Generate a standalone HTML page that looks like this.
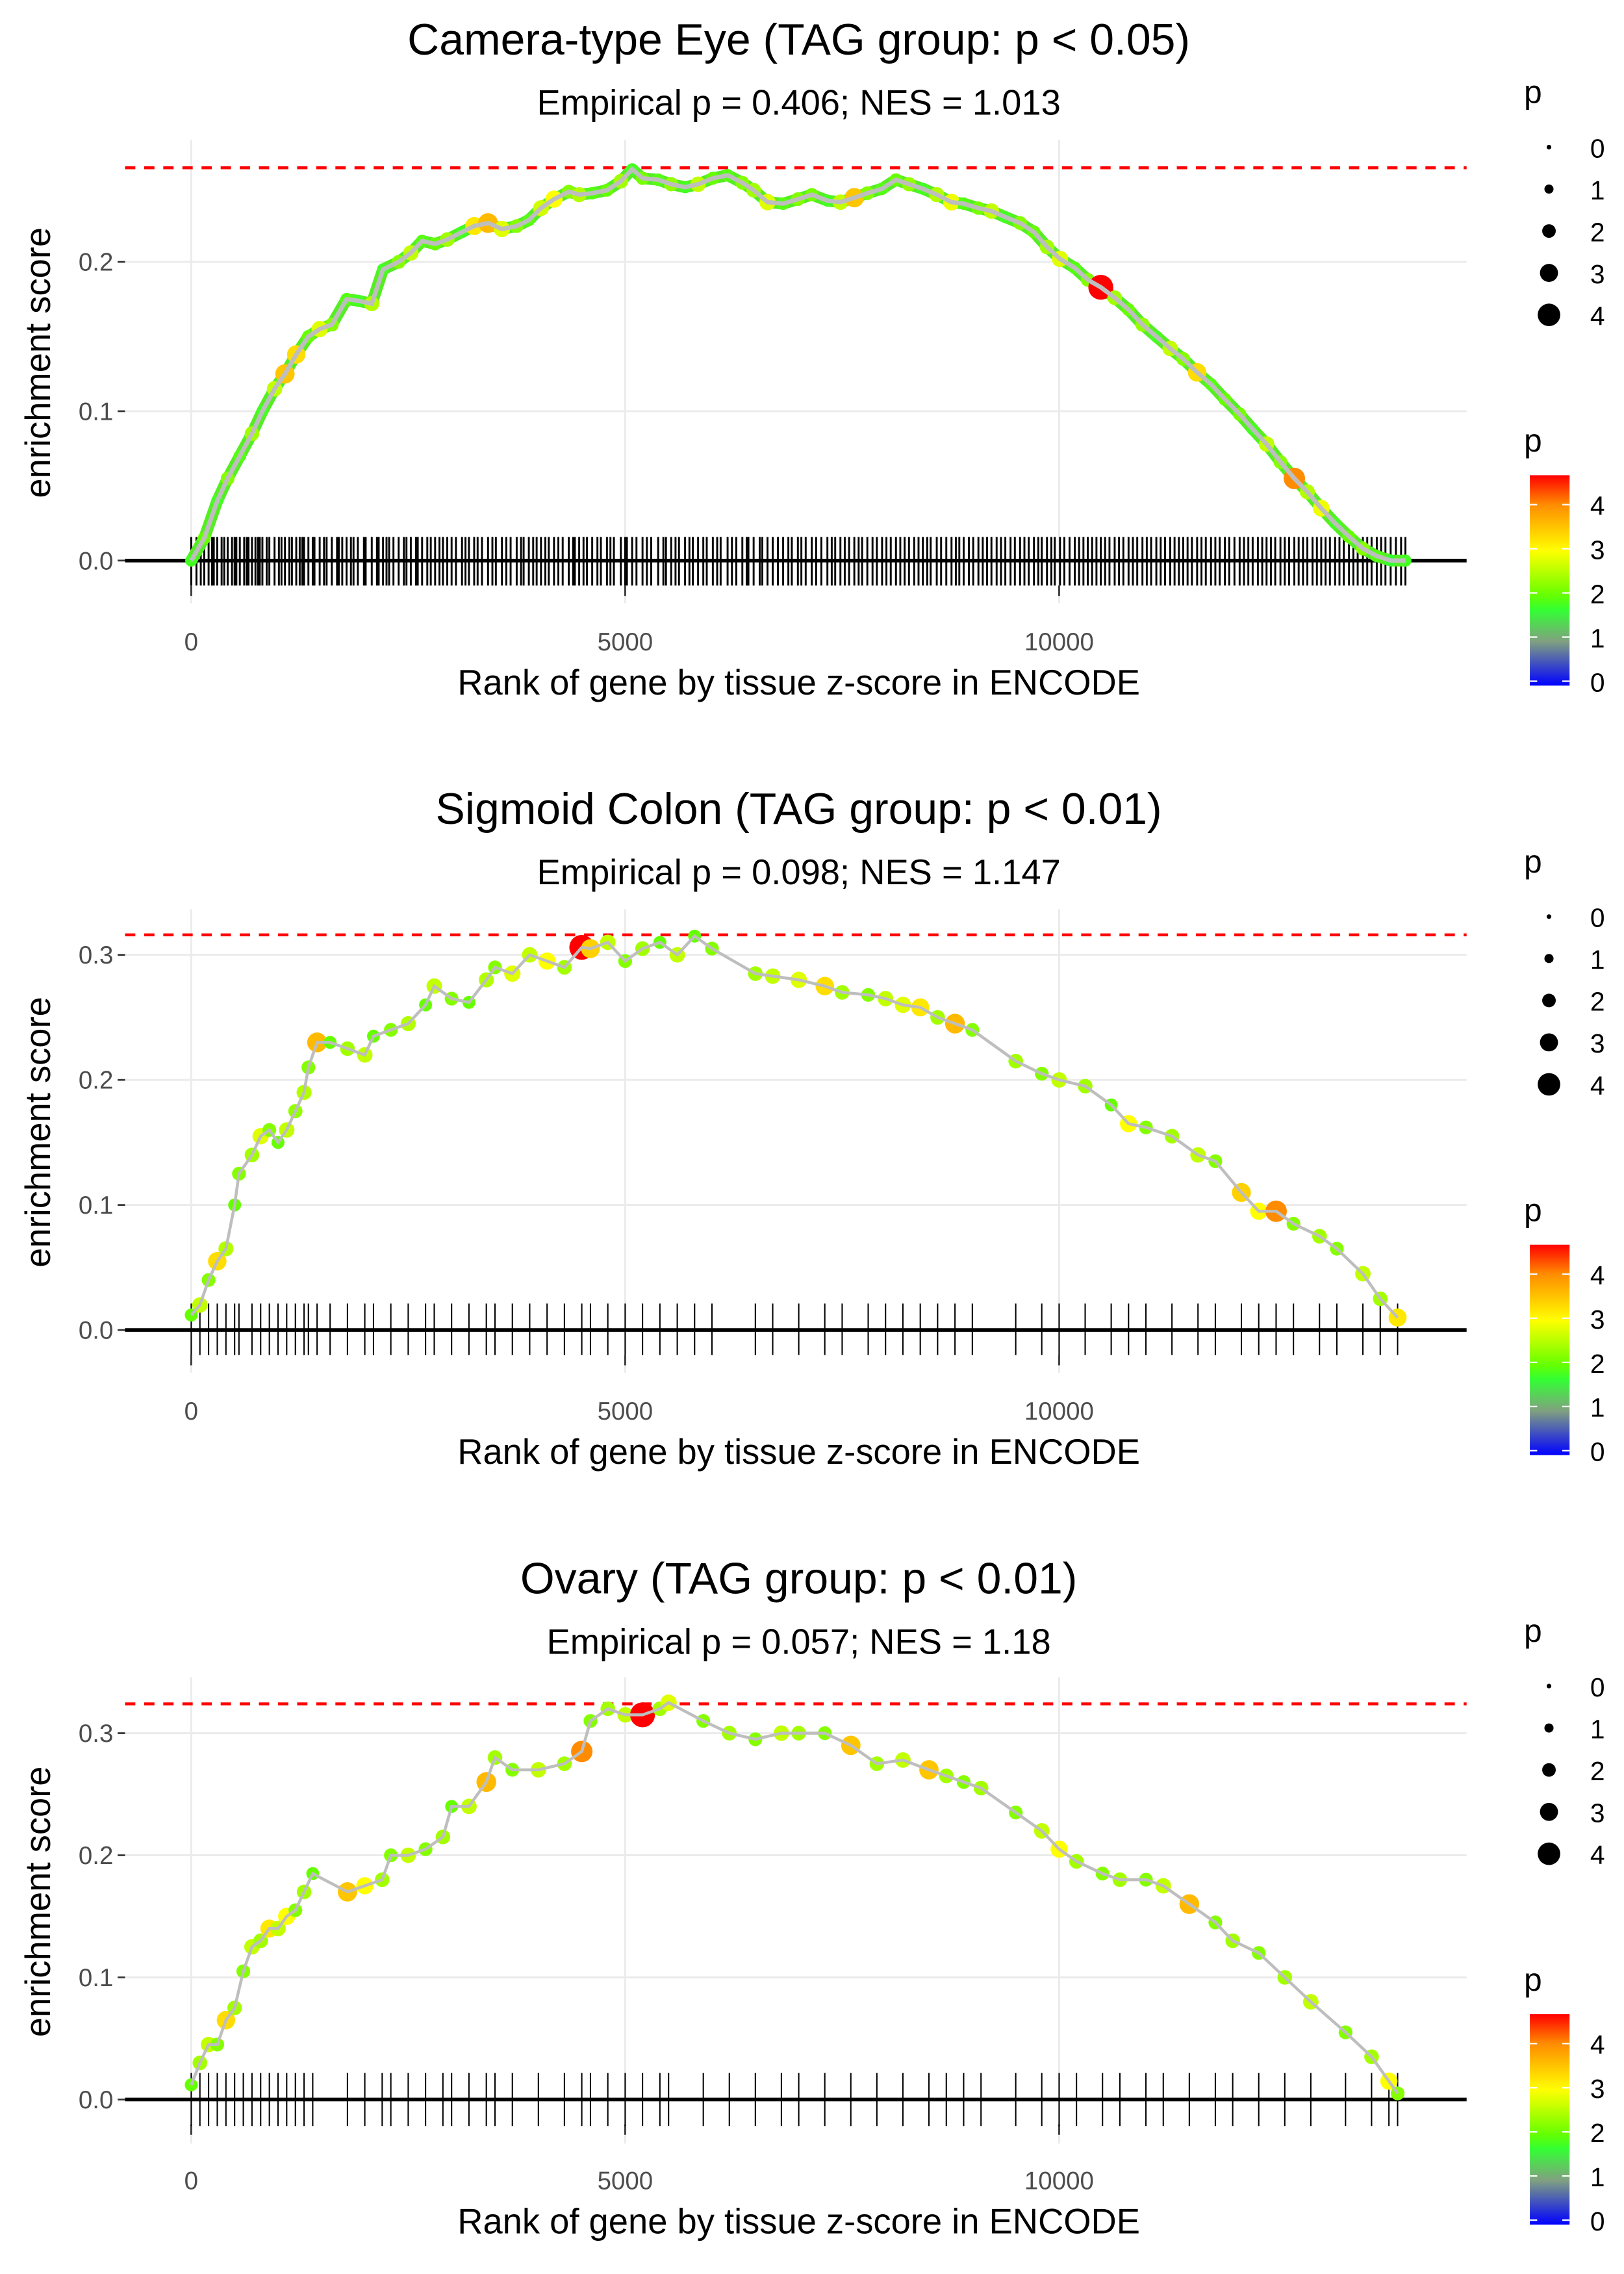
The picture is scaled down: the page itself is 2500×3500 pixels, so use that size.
<!DOCTYPE html>
<html><head><meta charset="utf-8"><style>
html,body{margin:0;padding:0;background:#fff}
svg{display:block}
text{font-family:"Liberation Sans",sans-serif}
</style></head><body>
<svg id="chart" width="2500" height="3500" viewBox="0 0 1104 1545.6" preserveAspectRatio="none" xmlns="http://www.w3.org/2000/svg">
<defs>
<linearGradient id="pgrad" x1="0" y1="1" x2="0" y2="0">
<stop offset="0" stop-color="#0000ff"/>
<stop offset="0.21" stop-color="#80a080"/>
<stop offset="0.36" stop-color="#33ff33"/>
<stop offset="0.43" stop-color="#66ff00"/>
<stop offset="0.64" stop-color="#ffff00"/>
<stop offset="0.86" stop-color="#ff8c00"/>
<stop offset="1" stop-color="#ff0000"/>
</linearGradient>
</defs>
</svg>
<script>
// ---- data ----
const titles = ["Camera-type Eye (TAG group: p < 0.05)","Sigmoid Colon (TAG group: p < 0.01)","Ovary (TAG group: p < 0.01)"];
const subtitles = ["Empirical p = 0.406; NES = 1.013","Empirical p = 0.098; NES = 1.147","Empirical p = 0.057; NES = 1.18"];
const maxES = [0.263, 0.316, 0.324];
const yTicks = [[0,0.1,0.2],[0,0.1,0.2,0.3],[0,0.1,0.2,0.3]];
const xTicks = [0,5000,10000];
const rank1 = [0,150,300,420,560,700,820,960,1080,1210,1350,1480,1620,1790,1920,2080,2210,2390,2530,2660,2810,2950,3120,3260,3420,3580,3750,3890,4030,4180,4350,4470,4620,4790,4950,5080,5200,5380,5530,5690,5840,6010,6180,6350,6480,6640,6820,6990,7150,7330,7480,7640,7790,7960,8120,8270,8430,8590,8760,8900,9070,9220,9380,9550,9710,9860,10010,10180,10330,10480,10640,10800,10960,11120,11280,11430,11590,11750,11910,12080,12230,12390,12550,12710,12860,13020,13180,13340,13500,13660,13820,13990];
const es1 = [0,0.015,0.04,0.055,0.07,0.085,0.1,0.115,0.125,0.138,0.15,0.155,0.158,0.175,0.174,0.172,0.195,0.2,0.206,0.214,0.212,0.215,0.22,0.224,0.226,0.222,0.224,0.228,0.236,0.242,0.247,0.245,0.246,0.248,0.254,0.262,0.256,0.255,0.252,0.25,0.252,0.256,0.258,0.253,0.248,0.24,0.239,0.242,0.245,0.241,0.24,0.243,0.246,0.249,0.255,0.252,0.249,0.245,0.24,0.239,0.236,0.234,0.23,0.226,0.22,0.21,0.202,0.196,0.188,0.183,0.176,0.168,0.158,0.15,0.142,0.135,0.126,0.118,0.108,0.098,0.088,0.078,0.066,0.055,0.046,0.035,0.025,0.016,0.008,0.003,0,0];
const p1 = [1.8,2,1.8,2.2,1.9,2.4,1.8,2.6,3.5,3.3,2,2.8,2.2,1.9,1.8,2.5,1.8,2.2,2.6,1.9,2,2.4,1.8,3.2,3.6,2.8,2.2,1.9,2.7,3,2.2,2.5,1.9,2,2.4,1.8,2.1,1.9,2.3,1.8,2.6,2,1.9,2.2,2.4,2.8,1.9,2.2,2.1,1.8,2.6,3.5,2.2,1.9,2,2.3,1.8,2.5,2.9,1.9,2.1,2.6,1.8,2.2,2,2.4,2.8,1.9,2.2,4.8,2.4,2,2.3,1.8,2.6,2.2,3.3,1.9,2,2.1,1.8,2.6,2.2,4,2.5,2.9,1.8,2,2.2,1.9,1.7,1.8];
const rugExtra1 = [60,110,200,240,260,350,380,470,500,520,610,640,660,740,770,790,870,900,1010,1040,1130,1160,1250,1280,1300,1400,1420,1530,1560,1680,1700,1740,1840,1870,1990,2010,2140,2160,2250,2280,2330,2450,2480,2590,2610,2720,2760,2860,2900,3000,3050,3160,3200,3300,3350,3470,3510,3630,3680,3800,3830,3940,3980,4080,4120,4230,4280,4400,4420,4520,4560,4680,4720,4830,4870,5000,5020,5130,5250,5300,5440,5470,5580,5620,5740,5780,5900,5940,6060,6100,6230,6280,6400,6420,6550,6580,6700,6760,6880,6920,7030,7080,7200,7260,7380,7420,7530,7580,7690,7730,7850,7900,8010,8060,8170,8220,8330,8380,8480,8520,8640,8700,8810,8850,8960,9010,9120,9170,9280,9330,9440,9490,9600,9650,9760,9800,9910,9950,10060,10120,10230,10280,10380,10430,10530,10580,10690,10740,10850,10900,11010,11060,11170,11220,11330,11380,11480,11530,11640,11690,11800,11850,11960,12020,12130,12180,12290,12340,12440,12490,12600,12650,12760,12810,12920,12970,13070,13120,13230,13280,13390,13440,13550,13600,13710,13760,13880,13940];
const rank2 = [0,100,200,300,400,500,550,700,800,900,1000,1100,1200,1300,1350,1450,1600,1800,2000,2100,2300,2500,2700,2800,3000,3200,3400,3500,3700,3900,4100,4300,4500,4600,4800,5000,5200,5400,5600,5800,6000,6500,6700,7000,7300,7500,7800,8000,8200,8400,8600,8800,9000,9500,9800,10000,10300,10600,10800,11000,11300,11600,11800,12100,12300,12500,12700,13000,13200,13500,13700,13900];
const es2 = [0.012,0.02,0.04,0.055,0.065,0.1,0.125,0.14,0.155,0.16,0.15,0.16,0.175,0.19,0.21,0.23,0.23,0.225,0.22,0.235,0.24,0.245,0.26,0.275,0.265,0.262,0.28,0.29,0.285,0.3,0.295,0.29,0.306,0.305,0.31,0.295,0.305,0.31,0.3,0.315,0.305,0.285,0.283,0.28,0.275,0.27,0.268,0.265,0.26,0.258,0.25,0.245,0.24,0.215,0.205,0.2,0.195,0.18,0.165,0.162,0.155,0.14,0.135,0.11,0.095,0.095,0.085,0.075,0.065,0.045,0.025,0.01];
const p2 = [2,2.6,2.2,3.3,2.5,2,2.2,2.4,2.8,2.2,2,2.6,2.3,2.5,2.2,3.6,2,2.4,2.6,2,2.2,2.5,2,2.6,2.2,2,2.5,2.2,2.8,2.6,3,2.4,4.8,3.4,2.6,2.2,2.4,2,2.6,2,2.2,2.4,2.6,2.8,3.3,2.4,2.2,2.6,2.8,3.2,2.4,3.6,2.2,2.4,2.2,2.6,2.4,2,3,2.2,2.4,2.6,2.2,3.4,3,4,2.2,2.4,2.2,2.6,2.4,3.2];
const rank3 = [0,100,200,300,400,500,600,700,800,900,1000,1100,1200,1300,1400,1800,2000,2200,2300,2500,2700,2900,3000,3200,3400,3500,3700,4000,4300,4500,4600,4800,5000,5200,5400,5500,5900,6200,6500,6800,7000,7300,7600,7900,8200,8500,8700,8900,9100,9500,9800,10000,10200,10500,10700,11000,11200,11500,11800,12000,12300,12600,12900,13300,13600,13800,13900];
const es3 = [0.012,0.03,0.045,0.045,0.065,0.075,0.105,0.125,0.13,0.14,0.14,0.15,0.155,0.17,0.185,0.17,0.175,0.18,0.2,0.2,0.205,0.215,0.24,0.24,0.26,0.28,0.27,0.27,0.275,0.285,0.31,0.32,0.315,0.315,0.32,0.325,0.31,0.3,0.295,0.3,0.3,0.3,0.29,0.275,0.278,0.27,0.265,0.26,0.255,0.235,0.22,0.205,0.195,0.185,0.18,0.18,0.175,0.16,0.145,0.13,0.12,0.1,0.08,0.055,0.035,0.015,0.005];
const p3 = [2,2.4,2.6,2.2,3.3,2.4,2.2,2.6,2.4,3.2,2.6,3,2.2,2.4,2,3.5,3,2.4,2.2,2.6,2.2,2.4,2,2.6,3.6,2.4,2.2,2.6,2.4,4,2.2,2.4,2.6,4.8,2.4,2.8,2.2,2.4,2.2,2.6,2.4,2.2,3.5,2.4,2.6,3.5,2.4,2.2,2.4,2.2,2.6,3,2.4,2.2,2.4,2.2,2.6,3.6,2.2,2.4,2.2,2.4,2.6,2.2,2.4,3,2.2];
const ranks = [rank1, rank2, rank3];
const rugExtra = [rugExtra1, [], []];
const esVals = [es1, es2, es3];
const pVals = [p1, p2, p3];
const sizeLegend = [0,1,2,3,4];
const colorLegend = [0,1,2,3,4];

// ---- layout ----
const NS = "http://www.w3.org/2000/svg";
const svg = document.getElementById('chart');
function mk(tag, attrs, parent){const e=document.createElementNS(NS,tag);for(const k in attrs)e.setAttribute(k,attrs[k]);(parent||svg).appendChild(e);return e;}
const xOf = r => 130 + r*0.059;
const panels = [
 {top:95, y0:381, unit:1015, rug:[365,398], base:0},
 {top:618, y0:904, unit:850, rug:[886,921], base:523},
 {top:1140, y0:1427, unit:830, rug:[1409,1445], base:1046}
];
const stops=[[0,[0,0,255]],[1,[128,160,128]],[1.7,[51,255,51]],[2,[102,255,0]],[3,[255,255,0]],[4,[255,140,0]],[4.8,[255,0,0]]];
function pColor(p){for(let i=1;i<stops.length;i++){if(p<=stops[i][0]){const a=stops[i-1],b=stops[i],t=(p-a[0])/(b[0]-a[0]);const c=a[1].map((v,j)=>Math.round(v+(b[1][j]-v)*t));return `rgb(${c})`;}}return 'rgb(255,0,0)';}
const pRad = p => 1.5 + p*1.45;

panels.forEach((P,i)=>{
 const g = mk('g',{});
 
 
 const yOf = v => P.y0 - v*P.unit;
 const t=mk('text',{x:543,y:P.base+37,'text-anchor':'middle','font-size':30},g);t.textContent=titles[i];
 
 const s=mk('text',{x:543,y:P.base+78,'text-anchor':'middle','font-size':24},g);s.textContent=subtitles[i];
 
 xTicks.forEach(v=>{const l=mk('line',{x1:xOf(v),x2:xOf(v),y1:P.top,y2:P.rug[1]+12,stroke:'#ebebeb','stroke-width':1.3},g);
  
  mk('line',{x1:xOf(v),x2:xOf(v),y1:P.y0+17,y2:P.y0+24,stroke:'#333','stroke-width':1.2},g);
  const tx=mk('text',{x:xOf(v),y:P.y0+61,'text-anchor':'middle','font-size':17,fill:'#4d4d4d'},g);tx.textContent=v;
  });
 yTicks[i].forEach(v=>{const l=mk('line',{x1:85,x2:997,y1:yOf(v),y2:yOf(v),stroke:'#ebebeb','stroke-width':1.3},g);
  
  mk('line',{x1:80,x2:85,y1:yOf(v),y2:yOf(v),stroke:'#333','stroke-width':1.2},g);
  const ty=mk('text',{x:77,y:yOf(v)+6,'text-anchor':'end','font-size':17,fill:'#4d4d4d'},g);ty.textContent=v.toFixed(1);
  });
 ranks[i].concat(rugExtra[i]).forEach(r=>{const l=mk('line',{x1:xOf(r),x2:xOf(r),y1:P.rug[0],y2:P.rug[1],stroke:'#000','stroke-width':i==0?1.3:0.9},g);
  });
 const zl=mk('line',{x1:85,x2:997,y1:P.y0,y2:P.y0,stroke:'#000','stroke-width':2.5},g);
 
 const ml=mk('line',{x1:85,x2:997,y1:yOf(maxES[i]),y2:yOf(maxES[i]),stroke:'#ff0000','stroke-width':2,'stroke-dasharray':'7,6'},g);
 
 const ptsStr = ranks[i].map((r,k)=>xOf(r)+','+yOf(esVals[i][k])).join(' ');
 if(i==0){const ul=mk('polyline',{points:ptsStr,fill:'none',stroke:'#55ee22','stroke-width':8,'stroke-linejoin':'round','stroke-linecap':'round'},g);
  }
 ranks[i].forEach((r,k)=>{const c=mk('circle',{cx:xOf(r),cy:yOf(esVals[i][k]),r:pRad(pVals[i][k]),fill:pColor(pVals[i][k])},g);
  });
 const pl=mk('polyline',{points:ptsStr,fill:'none',stroke:'#bebebe','stroke-width':i==0?3:2},g);
 
 const xt=mk('text',{x:543,y:P.base+472,'text-anchor':'middle','font-size':24},g);xt.textContent='Rank of gene by tissue z-score in ENCODE';
 
 const yc=(P.top+P.rug[1])/2;
 const yt=mk('text',{x:34,y:yc,'text-anchor':'middle','font-size':24,transform:`rotate(-90 34 ${yc})`},g);yt.textContent='enrichment score';
 
 const lg=mk('g',{},g);
 
 const lt=mk('text',{x:1036,y:P.base+70,'font-size':22},lg);lt.textContent='p';
 sizeLegend.forEach((v,k)=>{const cy=P.base+100+k*28.5;
  const c=mk('circle',{cx:1053,cy:cy,r:pRad(v)*1.05,fill:'#000'},lg);
  
  const tt=mk('text',{x:1081,y:cy+7,'font-size':18},lg);tt.textContent=v;});
 const cg=mk('g',{},g);
 
 const ct=mk('text',{x:1036,y:P.base+307,'font-size':22},cg);ct.textContent='p';
 const barTop=P.base+323, barBot=P.base+466;
 const br=mk('rect',{x:1040,y:barTop,width:27,height:barBot-barTop,fill:'url(#pgrad)'},cg);
 
 colorLegend.forEach(v=>{const cy=barBot-3-v*30;
  mk('line',{x1:1040,x2:1045,y1:cy,y2:cy,stroke:'#fff','stroke-width':1},cg);
  mk('line',{x1:1062,x2:1067,y1:cy,y2:cy,stroke:'#fff','stroke-width':1},cg);
  const tt=mk('text',{x:1081,y:cy+7,'font-size':18},cg);tt.textContent=v;});
});
</script>
</body></html>
